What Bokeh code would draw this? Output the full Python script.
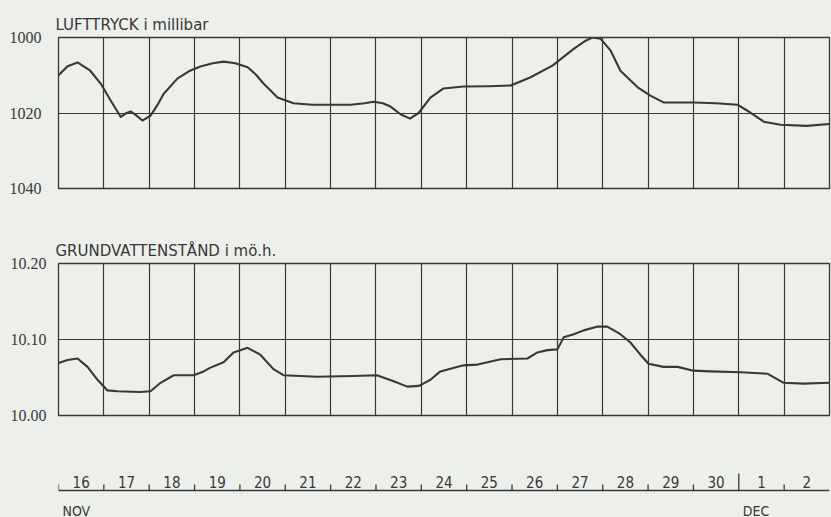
from bokeh.plotting import figure
from bokeh.layouts import column
from bokeh.models import Range1d, FixedTicker, Span
from bokeh.core.properties import value
from bokeh.embed import file_html
from bokeh.resources import INLINE

# ---- data (x = days since 16 Nov 00:00) ----
pressure_day = [0.0, 0.2, 0.42, 0.7, 0.93, 1.15, 1.37, 1.5, 1.59, 1.7, 1.85, 2.03, 2.2, 2.32,
                2.62, 2.9, 3.13, 3.4, 3.64, 3.9, 4.17, 4.35, 4.52, 4.83, 5.18, 5.6, 6.07, 6.44,
                6.75, 6.95, 7.15, 7.32, 7.55, 7.75, 7.94, 8.2, 8.49, 8.93, 9.5, 9.97, 10.4,
                10.9, 11.15, 11.36, 11.6, 11.77, 11.95, 12.17, 12.39, 12.77, 13.05, 13.34,
                14.0, 14.5, 14.97, 15.19, 15.55, 15.92, 16.5, 17.0]
pressure_mb = [1010.0, 1007.6, 1006.6, 1008.8, 1012.2, 1016.7, 1021.0, 1020.0, 1019.6, 1020.5,
               1022.0, 1020.7, 1017.5, 1014.9, 1010.9, 1008.8, 1007.7, 1006.8, 1006.4, 1006.8,
               1007.9, 1009.8, 1012.2, 1015.9, 1017.4, 1017.8, 1017.8, 1017.8, 1017.4, 1017.0,
               1017.4, 1018.3, 1020.4, 1021.5, 1020.0, 1015.9, 1013.5, 1013.0, 1012.9, 1012.7,
               1010.6, 1007.4, 1005.0, 1003.0, 1001.0, 1000.0, 1000.3, 1003.4, 1008.8, 1013.2,
               1015.4, 1017.2, 1017.2, 1017.4, 1017.8, 1019.4, 1022.3, 1023.1, 1023.4, 1022.9]

water_day = [0.0, 0.2, 0.42, 0.64, 0.86, 1.08, 1.3, 1.8, 2.03, 2.25, 2.54, 2.98, 3.2, 3.35,
             3.64, 3.86, 4.17, 4.45, 4.74, 4.96, 5.7, 6.5, 7.02, 7.39, 7.69, 7.95, 8.2, 8.42,
             8.93, 9.24, 9.75, 10.34, 10.56, 10.78, 11.0, 11.14, 11.36, 11.58, 11.89, 12.1,
             12.39, 12.61, 12.83, 13.01, 13.34, 13.65, 14.0, 14.38, 15.04, 15.63, 15.99,
             16.43, 17.0]
water_m = [10.069, 10.073, 10.075, 10.064, 10.047, 10.033, 10.032, 10.031, 10.032, 10.043,
           10.053, 10.053, 10.058, 10.063, 10.070, 10.083, 10.089, 10.080, 10.061, 10.053,
           10.051, 10.052, 10.053, 10.045, 10.038, 10.039, 10.047, 10.058, 10.066, 10.067,
           10.074, 10.075, 10.083, 10.086, 10.087, 10.103, 10.107, 10.112, 10.117, 10.117,
           10.107, 10.096, 10.080, 10.068, 10.064, 10.064, 10.059, 10.058, 10.057, 10.055,
           10.043, 10.042, 10.043]

day_labels = ["16", "17", "18", "19", "20", "21", "22", "23", "24", "25", "26", "27", "28",
              "29", "30", "1", "2"]
month_labels = ["NOV", "DEC"]
month_start = [0, 15]

pressure_ticks = [1000, 1020, 1040]
pressure_tick_labels = ["1000", "1020", "1040"]
water_ticks = [10.00, 10.10, 10.20]
water_tick_labels = ["10.00", "10.10", "10.20"]

title_top = "LUFTTRYCK  i millibar"
title_bottom = "GRUNDVATTENSTÅND  i mö.h."

# ---- style ----
BG = "#edefeb"
INK = "#383838"
FONT = "DejaVu Sans"
TICKFONT = "Liberation Sans Narrow"
DAYFONT = "DejaVu Sans Condensed"
W = 831

n_days = len(day_labels)
bounds = list(range(0, n_days + 1))
centers = [i + 0.5 for i in range(n_days)]
x_range = Range1d(0, n_days)


def panel(height, top, frame_h, y_range, ticks, labels, grid_at, title, standoff):
    p = figure(width=W, height=height, x_range=x_range, y_range=y_range,
               output_backend="svg", toolbar_location=None, x_axis_location=None,
               min_border_left=58, min_border_right=2, min_border_top=top,
               min_border_bottom=height - top - frame_h)
    p.background_fill_color = BG
    p.border_fill_color = BG
    p.outline_line_color = INK
    p.outline_line_width = 1.3
    p.title.text = title
    p.title.text_font = FONT
    p.title.text_font_size = "15px"
    p.title.text_font_style = "normal"
    p.title.text_color = INK
    p.title.align = "left"
    p.title.standoff = 8
    p.title.offset = -3
    ax = p.yaxis[0]
    ax.ticker = FixedTicker(ticks=ticks)
    ax.major_label_overrides = {t: l for t, l in zip(ticks, labels)}
    ax.axis_line_color = None
    ax.major_tick_line_color = None
    ax.minor_tick_line_color = None
    ax.major_tick_out = 0
    ax.major_tick_in = 0
    ax.major_label_standoff = standoff
    ax.major_label_text_font = TICKFONT
    ax.major_label_text_font_size = "16px"
    ax.major_label_text_color = INK
    p.xgrid.ticker = FixedTicker(ticks=bounds[1:-1])
    p.xgrid.grid_line_color = INK
    p.xgrid.grid_line_width = 1.2
    p.ygrid.ticker = FixedTicker(ticks=grid_at)
    p.ygrid.grid_line_color = INK
    p.ygrid.grid_line_width = 1.2
    return p


p1 = panel(225, 37, 151, Range1d(1040, 1000), pressure_ticks, pressure_tick_labels,
           [1020], title_top, 17)
p1.line(pressure_day, pressure_mb, line_color=INK, line_width=2.1, line_join="round")

p2 = panel(215, 38, 152, Range1d(10.00, 10.20), water_ticks, water_tick_labels,
           [10.10], title_bottom, 12)
p2.line(water_day, water_m, line_color=INK, line_width=2.1, line_join="round")

# ---- date axis strip (frame spans the strip; 1 y-unit = 1 px) ----
AXIS_Y = 27
p3 = figure(width=W, height=77, x_range=x_range, y_range=Range1d(0, 62),
            output_backend="svg", toolbar_location=None, x_axis_location=None,
            y_axis_location=None, min_border_left=58, min_border_right=0,
            min_border_top=15, min_border_bottom=0)
p3.title = None
p3.background_fill_color = BG
p3.border_fill_color = BG
p3.outline_line_color = None
p3.xgrid.visible = False
p3.ygrid.visible = False
p3.add_layout(Span(location=AXIS_Y, dimension="width", line_color=INK, line_width=1.3))
day_ticks = [b for b in bounds[:-1] if b not in month_start[1:]]
p3.segment(x0=day_ticks, y0=AXIS_Y, x1=day_ticks, y1=AXIS_Y + 6,
           line_color=INK, line_width=1.3)
p3.segment(x0=month_start[1:], y0=AXIS_Y, x1=month_start[1:], y1=AXIS_Y + 17,
           line_color=INK, line_width=1.3)
p3.text(x=centers, y=AXIS_Y + 3, text=day_labels, text_align="center",
        text_baseline="bottom", text_font=value(DAYFONT), text_font_size="15px",
        text_color=INK)
p3.text(x=month_start, y=15, text=month_labels, x_offset=4,
        text_align="left", text_baseline="top", text_font=value(DAYFONT),
        text_font_size="14px", text_color=INK)

layout = column(p1, p2, p3, spacing=0)
layout.background = BG
open("out.html", "w").write(file_html(layout, INLINE))
